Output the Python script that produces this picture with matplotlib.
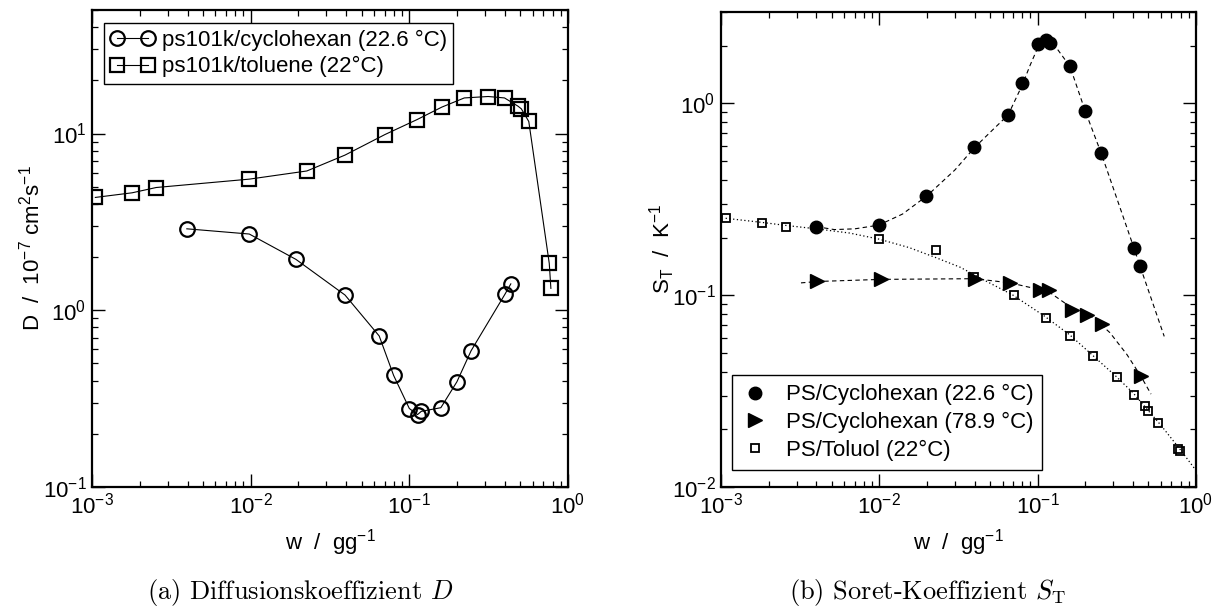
import matplotlib
matplotlib.use("Agg")
import matplotlib.pyplot as plt
from matplotlib.lines import Line2D
from matplotlib.ticker import LogLocator, NullFormatter

# ---- (a) diffusion coefficient D(w) ----
w_cyc = [0.00396, 0.0098, 0.0193, 0.0393, 0.0646, 0.0796, 0.100, 0.1127, 0.119,
         0.158, 0.1995, 0.245, 0.40, 0.436]
D_cyc = [2.89, 2.70, 1.94, 1.22, 0.715, 0.428, 0.278, 0.257, 0.268,
         0.281, 0.394, 0.590, 1.23, 1.41]

w_tol = [0.00105, 0.00179, 0.00254, 0.0098, 0.0226, 0.0393, 0.0702, 0.112, 0.160,
         0.222, 0.314, 0.398, 0.483, 0.508, 0.566, 0.762, 0.78]
D_tol = [4.35, 4.62, 4.95, 5.52, 6.14, 7.55, 9.87, 12.0, 14.1,
         15.9, 16.2, 15.9, 14.3, 13.8, 11.7, 1.84, 1.33]

# ---- (b) Soret coefficient S_T(w) ----
w_c226 = [0.00398, 0.00996, 0.0197, 0.0398, 0.0653, 0.0801, 0.100, 0.113, 0.1197,
          0.160, 0.200, 0.252, 0.406, 0.443]
S_c226 = [0.228, 0.232, 0.329, 0.593, 0.873, 1.28, 2.04, 2.14, 2.07,
          1.56, 0.912, 0.552, 0.176, 0.142]
fit_c226_w = [0.0040, 0.0052, 0.0070, 0.0099, 0.0140, 0.0200, 0.0300, 0.0400, 0.0530,
              0.0650, 0.0800, 0.0895, 0.1000, 0.1080, 0.1150, 0.1320, 0.1600, 0.2000,
              0.2520, 0.4060, 0.4430, 0.6300]
fit_c226_S = [0.228, 0.220, 0.222, 0.232, 0.265, 0.330, 0.450, 0.590, 0.740,
              0.870, 1.25, 1.58, 1.95, 2.12, 2.12, 1.94, 1.56, 0.910,
              0.550, 0.176, 0.142, 0.061]

w_c789 = [0.00406, 0.0103, 0.0401, 0.0670, 0.103, 0.118, 0.164, 0.204, 0.256, 0.448]
S_c789 = [0.118, 0.121, 0.122, 0.116, 0.107, 0.106, 0.0838, 0.0789, 0.0705, 0.0379]
fit_c789_w = [0.0032, 0.0041, 0.0103, 0.0401, 0.0670, 0.1030, 0.1180, 0.1640, 0.2250,
              0.2860, 0.3660, 0.4480, 0.5200]
fit_c789_S = [0.116, 0.118, 0.121, 0.122, 0.116, 0.107, 0.104, 0.086, 0.0764,
              0.0638, 0.0491, 0.0379, 0.0305]

w_tolS = [0.00107, 0.00181, 0.00256, 0.00996, 0.0228, 0.0398, 0.0713, 0.1125, 0.160,
          0.225, 0.316, 0.403, 0.475, 0.494, 0.577, 0.774, 0.794]
S_tol = [0.253, 0.237, 0.226, 0.196, 0.172, 0.125, 0.100, 0.0761, 0.0612,
         0.0481, 0.0375, 0.0303, 0.0263, 0.0250, 0.0215, 0.0157, 0.0155]
fit_tol_w = [0.00107, 0.0018, 0.0026, 0.0040, 0.0065, 0.0100, 0.0155, 0.0228, 0.0324,
             0.0450, 0.0700, 0.1100, 0.1600, 0.2200, 0.3100, 0.4000, 0.5000, 0.6000,
             0.7800, 1.0000]
fit_tol_S = [0.252, 0.240, 0.231, 0.222, 0.211, 0.196, 0.177, 0.157, 0.140,
             0.121, 0.100, 0.078, 0.062, 0.049, 0.038, 0.031, 0.025, 0.021,
             0.016, 0.0122]

plt.rcParams.update({
    "font.family": ["Liberation Sans", "DejaVu Sans"],
    "mathtext.fontset": "custom",
    "mathtext.rm": "Liberation Sans",
    "mathtext.it": "Liberation Sans:italic",
    "mathtext.bf": "Liberation Sans:bold",
    "axes.unicode_minus": False,
    "xtick.direction": "in", "ytick.direction": "in",
    "xtick.top": True, "ytick.right": True,
    "xtick.major.size": 9.5, "ytick.major.size": 9.5,
    "xtick.minor.size": 4.5, "ytick.minor.size": 4.5,
    "xtick.major.width": 1.0, "ytick.major.width": 1.0,
    "xtick.minor.width": 0.9, "ytick.minor.width": 0.9,
    "xtick.major.pad": 4, "ytick.major.pad": 4,
    "xtick.labelsize": 16, "ytick.labelsize": 16,
    "axes.linewidth": 1.6,
})

W, H = 1220, 608
fig = plt.figure(figsize=(W / 100, H / 100), dpi=100)
ax1 = fig.add_axes([92 / W, (H - 487) / H, 476 / W, 477 / H])
ax2 = fig.add_axes([721 / W, (H - 487) / H, 475 / W, 475 / H])


def style_log_axes(ax, ylim):
    ax.set_xscale("log")
    ax.set_yscale("log")
    ax.set_xlim(1e-3, 1)
    ax.set_ylim(*ylim)
    for axis in (ax.xaxis, ax.yaxis):
        axis.set_major_locator(LogLocator(base=10))
        axis.set_minor_locator(LogLocator(base=10, subs=range(2, 10)))
        axis.set_minor_formatter(NullFormatter())


# (a)
style_log_axes(ax1, (0.1, 50))
ax1.plot(w_cyc, D_cyc, color="black", lw=0.8, marker="o", ms=10.5,
         mfc="none", mec="black", mew=1.6, label="ps101k/cyclohexan (22.6 °C)")
ax1.plot(w_tol, D_tol, color="black", lw=0.8, marker="s", ms=9.5,
         mfc="none", mec="black", mew=1.6, label="ps101k/toluene (22°C)")
leg1 = ax1.legend(loc="upper left", bbox_to_anchor=(0.025, 0.973), borderaxespad=0,
                  fontsize=16, numpoints=2, handlelength=2.0, handletextpad=0.3,
                  borderpad=0.3, labelspacing=0.25, fancybox=False, framealpha=1,
                  edgecolor="black")
leg1.get_frame().set_linewidth(1.0)
ax1.set_xlabel(r"w  /  gg$^{-1}$", fontsize=16)
ax1.set_ylabel(r"D  /  10$^{-7}$ cm$^{2}$s$^{-1}$", fontsize=16)
ax1.xaxis.set_label_coords(0.5, -0.085, transform=ax1.transAxes)
ax1.yaxis.set_label_coords(-0.1, 0.5, transform=ax1.transAxes)

# (b)
style_log_axes(ax2, (0.01, 3))
ax2.plot(fit_c226_w, fit_c226_S, color="black", lw=0.8, ls=(0, (4, 3)))
ax2.plot(fit_c789_w, fit_c789_S, color="black", lw=0.8, ls=(0, (4, 3)))
ax2.plot(fit_tol_w, fit_tol_S, color="black", lw=0.9, ls=(0, (1, 2)))
ax2.plot(w_c226, S_c226, ls="none", marker="o", ms=9, color="black")
ax2.plot(w_c789, S_c789, ls="none", marker=">", ms=10, color="black")
ax2.plot(w_tolS, S_tol, ls="none", marker="s", ms=5.5, mfc="none",
         mec="black", mew=1.3)
handles = [
    Line2D([], [], ls="none", marker="o", ms=9, color="black"),
    Line2D([], [], ls="none", marker=">", ms=10, color="black"),
    Line2D([], [], ls="none", marker="s", ms=5.5, mfc="none", mec="black", mew=1.3),
]
labels = ["PS/Cyclohexan (22.6 °C)", "PS/Cyclohexan (78.9 °C)", "PS/Toluol (22°C)"]
leg2 = ax2.legend(handles, labels, loc="lower left", bbox_to_anchor=(0.024, 0.036),
                  borderaxespad=0, fontsize=16, numpoints=1, handlelength=1.2,
                  handletextpad=0.8, borderpad=0.4, labelspacing=0.3,
                  fancybox=False, framealpha=1, edgecolor="black")
leg2.get_frame().set_linewidth(1.0)
ax2.set_xlabel(r"w  /  gg$^{-1}$", fontsize=16)
ax2.set_ylabel(r"S$_\mathregular{T}$  /  K$^{-1}$", fontsize=16)
ax2.xaxis.set_label_coords(0.5, -0.085, transform=ax2.transAxes)
ax2.yaxis.set_label_coords(-0.093, 0.5, transform=ax2.transAxes)

# sub-figure captions
fig.text(300 / W, 1 - 592 / H, r"(a) Diffusionskoeffizient $D$", ha="center",
         va="center", fontsize=19, family="cmr10", math_fontfamily="cm")
fig.text(927 / W, 1 - 592 / H, r"(b) Soret-Koeffizient $S_\mathrm{T}$", ha="center",
         va="center", fontsize=19, family="cmr10", math_fontfamily="cm")

fig.savefig("out.png", dpi=100)
